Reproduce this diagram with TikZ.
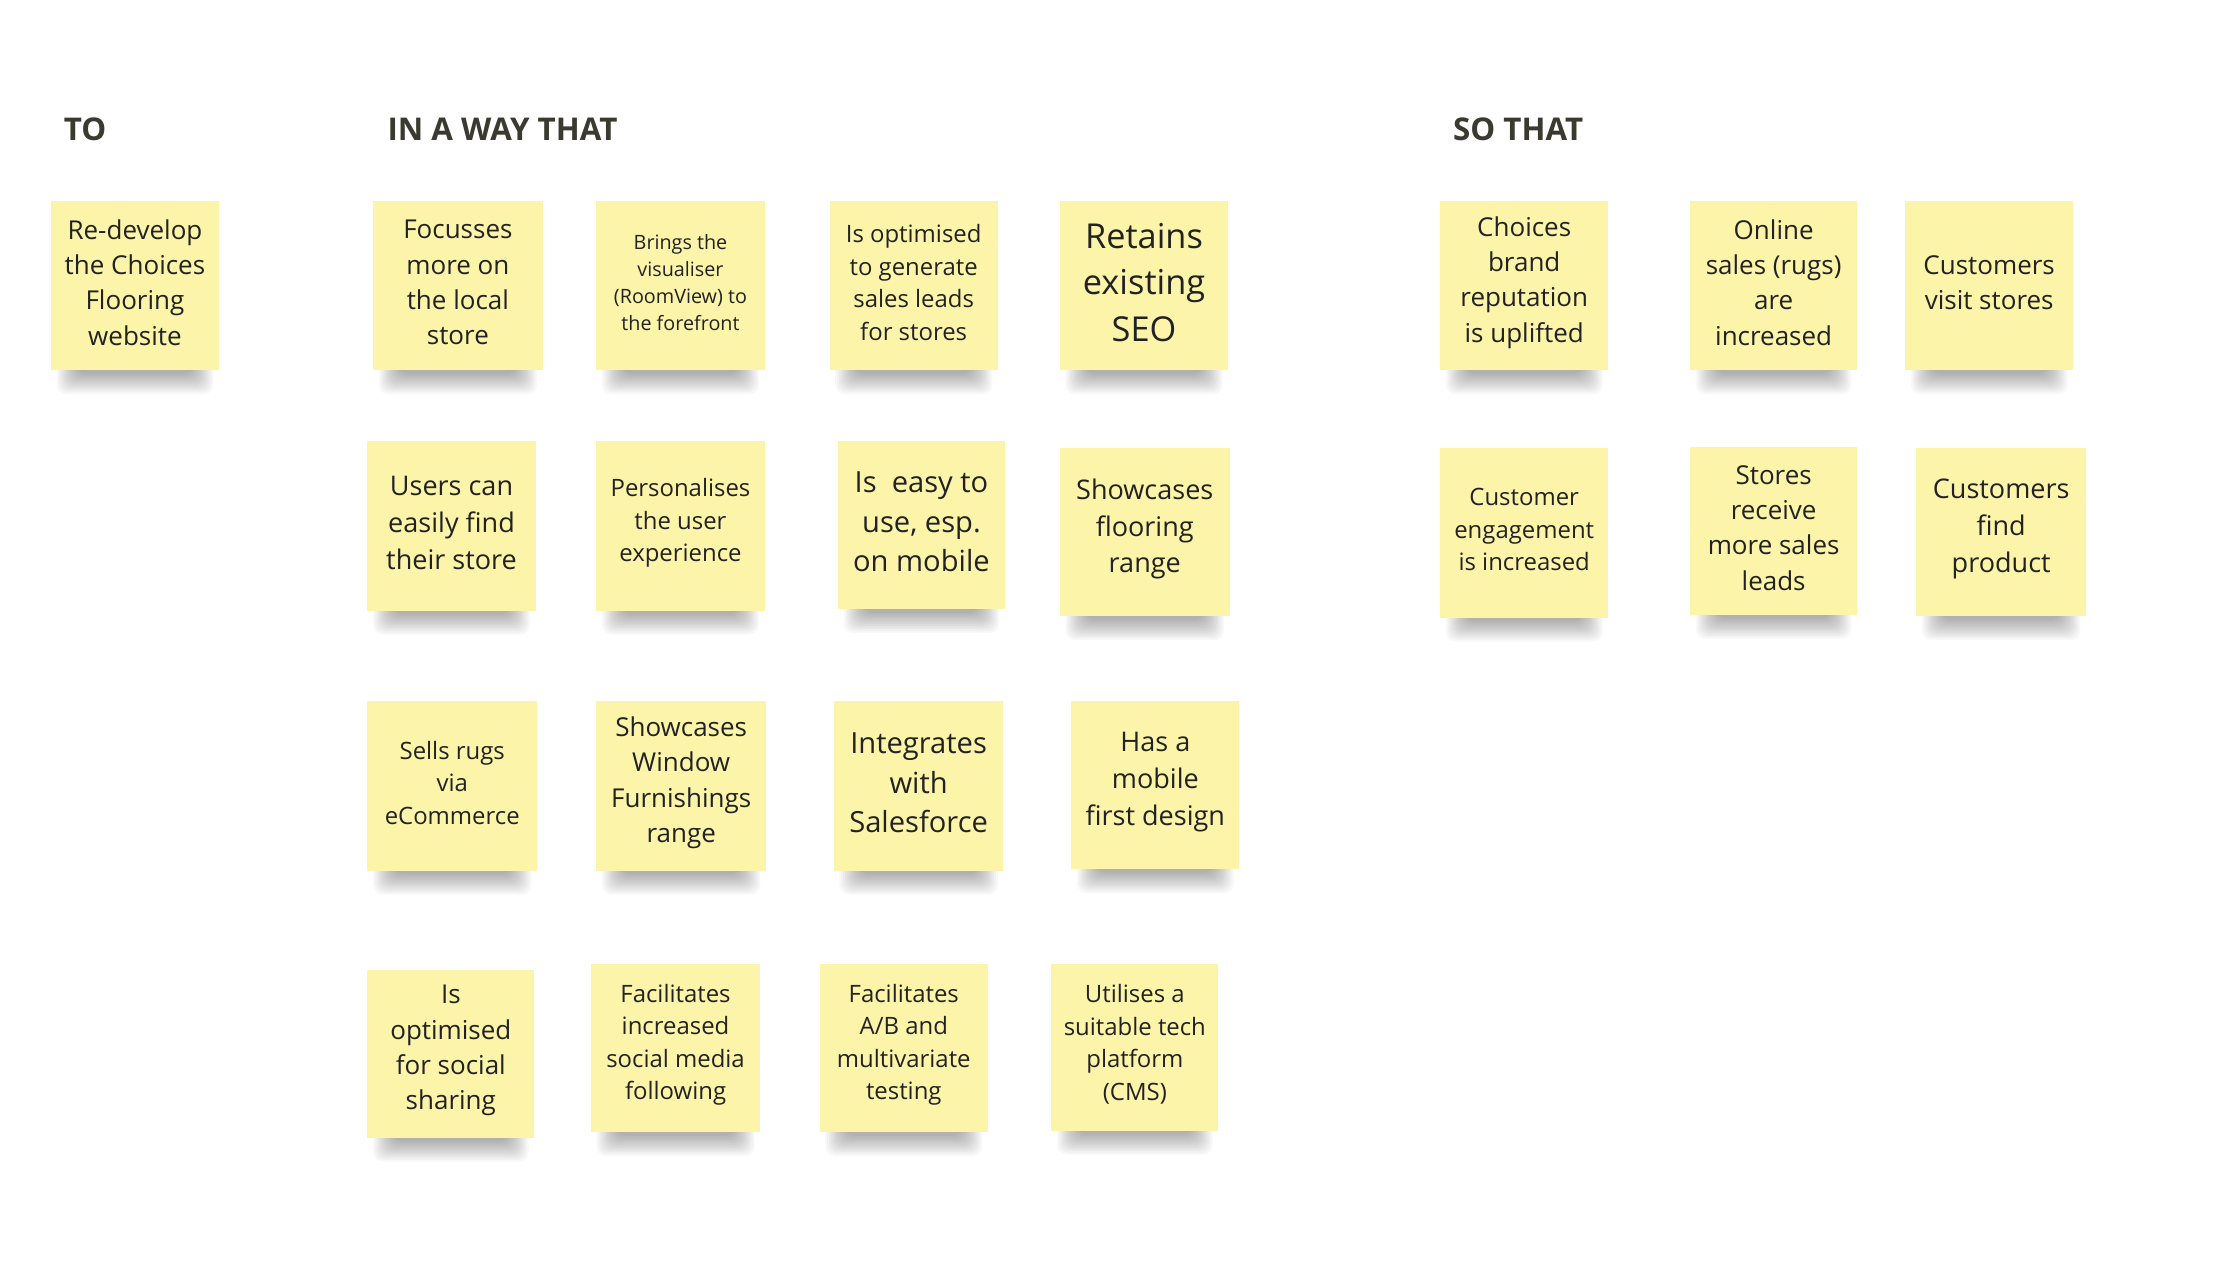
\documentclass[tikz,border=0pt]{standalone}
\usepackage{fontspec}
\setmainfont{Open Sans}
\definecolor{notey}{HTML}{FCF4A9}
\definecolor{headc}{HTML}{3A3A30}
\definecolor{textc}{HTML}{222222}
\tikzset{
  note/.style={fill=notey, draw=none, rectangle, inner sep=0pt},
  notetext/.style={align=center, text=textc, inner sep=0pt},
  header/.style={font=\bfseries\fontsize{23.5}{28}\selectfont, text=headc, anchor=base west, inner sep=0pt}
}
\newcommand\stickynote[7]{%
  \foreach \k in {0,...,11}{%
    \fill[black, opacity=0.028, rounded corners=7] ({#2+4+\k*1.3},{#5-10}) rectangle ({#4-4-\k*1.3},{#5+17-\k*1.3});}
  \pgfmathsetmacro\nw{(#4-#2)*1.06}%
  \pgfmathsetmacro\nh{(#5-#3)*1.06}%
  \pgfmathsetmacro\fs{#6*0.78}%
  \pgfmathsetmacro\bs{#6*1.06}%
  \node[note, minimum width=\nw pt, minimum height=\nh pt] (#1) at ({(#2+#4)/2},{(#3+#5)/2}) {};%
  \node[notetext, font=\fontsize{\fs}{\bs}\selectfont] (#1t) at ([yshift=2.2pt]#1.center) {#7};%
}
\begin{document}
\begin{tikzpicture}[x=1.06pt, y=-1.06pt]
\fill[white] (0,0) rectangle (1568,900);
\useasboundingbox (0,0) rectangle (1568,900);

\node[header] (hto) at (45,99.5) {TO};
\node[header] (hway) at (274,99.5) {IN A WAY THAT};
\node[header] (hso) at (1028,99.5) {SO THAT};

\stickynote{n1}{36}{142}{155}{262}{25}{Re-develop\\the Choices\\Flooring\\website}

\stickynote{a1}{264}{142}{384}{262}{25}{Focusses\\more on\\the local\\store}
\stickynote{a2}{422}{142}{541}{262}{19}{Brings the\\visualiser\\(RoomView) to\\the forefront}
\stickynote{a3}{587}{142}{706}{262}{23}{Is optimised\\to generate\\sales leads\\for stores}
\stickynote{a4}{750}{142}{869}{262}{33}{Retains\\existing\\SEO}

\stickynote{b1}{260}{312}{379}{432}{26}{Users can\\easily find\\their store}
\stickynote{b2}{422}{312}{541}{432}{23}{Personalises\\the user\\experience}
\stickynote{b3}{593}{312}{711}{431}{28}{Is\ \ easy to\\use, esp.\\on mobile}
\stickynote{b4}{750}{317}{870}{436}{26}{Showcases\\flooring\\range}

\stickynote{c1}{260}{496}{380}{616}{23}{Sells rugs\\via\\eCommerce}
\stickynote{c2}{422}{496}{542}{616}{25}{Showcases\\Window\\Furnishings\\range}
\stickynote{c3}{590}{496}{710}{616}{28}{Integrates\\with\\Salesforce}
\stickynote{c4}{758}{496}{877}{615}{26}{Has a\\mobile\\first design}

\stickynote{d1}{260}{686}{378}{805}{25}{Is\\optimised\\for social\\sharing}
\stickynote{d2}{418}{682}{538}{801}{23}{Facilitates\\increased\\social media\\following}
\stickynote{d3}{580}{682}{699}{801}{23}{Facilitates\\A/B and\\multivariate\\testing}
\stickynote{d4}{744}{682}{862}{800}{23}{Utilises a\\suitable tech\\platform\\(CMS)}

\stickynote{s1}{1019}{142}{1138}{262}{25}{Choices\\brand\\reputation\\is uplifted}
\stickynote{s2}{1196}{142}{1314}{262}{25}{Online\\sales (rugs)\\are\\increased}
\stickynote{s3}{1348}{142}{1467}{262}{25}{Customers\\visit stores}
\stickynote{s4}{1019}{317}{1138}{437}{23}{Customer\\engagement\\is increased}
\stickynote{s5}{1196}{316}{1314}{435}{25}{Stores\\receive\\more sales\\leads}
\stickynote{s6}{1356}{317}{1476}{436}{26}{Customers\\find\\product}
\end{tikzpicture}
\end{document}
